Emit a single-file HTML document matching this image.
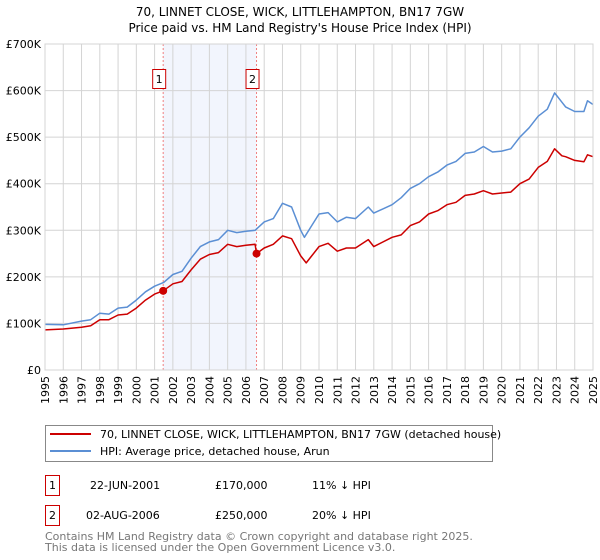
<!DOCTYPE html>
<html><head><meta charset="utf-8"><style>
body{margin:0;background:#fff;font-family:"DejaVu Sans","Liberation Sans",sans-serif}
svg{display:block}
</style></head><body>
<svg id="c" width="600" height="560" xmlns="http://www.w3.org/2000/svg">
<text x="300" y="16" text-anchor="middle" font-size="12">70, LINNET CLOSE, WICK, LITTLEHAMPTON, BN17 7GW</text>
<text x="300" y="32" text-anchor="middle" font-size="12">Price paid vs. HM Land Registry's House Price Index (HPI)</text>
<g id="plot"></g>
<g>
<rect x="45.5" y="425.5" width="447" height="36" fill="#fff" stroke="#888"/>
<line x1="50" y1="434" x2="91" y2="434" stroke="#cc0000" stroke-width="2"/>
<text x="100" y="438" font-size="11">70, LINNET CLOSE, WICK, LITTLEHAMPTON, BN17 7GW (detached house)</text>
<line x1="50" y1="451" x2="91" y2="451" stroke="#5b8fd4" stroke-width="2"/>
<text x="100" y="455" font-size="11">HPI: Average price, detached house, Arun</text>
</g>
<g font-size="11">
<rect x="45.5" y="475.5" width="14" height="20" fill="none" stroke="#cc0000"/>
<text x="52.5" y="489" text-anchor="middle">1</text>
<text x="90" y="489">22-JUN-2001</text><text x="215" y="489">£170,000</text><text x="312" y="489">11% ↓ HPI</text>
<rect x="45.5" y="505.5" width="14" height="20" fill="none" stroke="#cc0000"/>
<text x="52.5" y="519" text-anchor="middle">2</text>
<text x="86" y="519">02-AUG-2006</text><text x="215" y="519">£250,000</text><text x="312" y="519">20% ↓ HPI</text>
</g>
<text x="45" y="540" font-size="11" fill="#777">Contains HM Land Registry data © Crown copyright and database right 2025.</text>
<text x="45" y="551" font-size="11" fill="#777">This data is licensed under the Open Government Licence v3.0.</text>
</svg>
<script>
const hpiYears=[1995,1996,1997,1997.5,1998,1998.5,1999,1999.5,2000,2000.5,2001,2001.5,2002,2002.5,2003,2003.5,2004,2004.5,2005,2005.5,2006,2006.5,2007,2007.5,2008,2008.5,2009,2009.2,2009.6,2010,2010.5,2011,2011.5,2012,2012.7,2013,2014,2014.5,2015,2015.5,2016,2016.5,2017,2017.5,2018,2018.5,2019,2019.5,2020,2020.5,2021,2021.5,2022,2022.5,2022.9,2023.3,2023.5,2024,2024.5,2024.7,2025];
const hpiValues=[98,97,105,108,122,120,133,135,150,168,180,188,205,212,240,265,275,280,300,295,298,300,318,325,358,350,300,285,310,335,338,318,328,325,350,337,355,370,390,400,415,425,440,448,465,468,480,468,470,475,500,520,545,560,595,575,565,555,555,578,570];
const propYears=[1995,1996,1997,1997.5,1998,1998.5,1999,1999.5,2000,2000.5,2001,2001.47,2002,2002.5,2003,2003.5,2004,2004.5,2005,2005.5,2006,2006.5,2006.58,2007,2007.5,2008,2008.5,2009,2009.3,2009.6,2010,2010.5,2011,2011.5,2012,2012.7,2013,2014,2014.5,2015,2015.5,2016,2016.5,2017,2017.5,2018,2018.5,2019,2019.5,2020,2020.5,2021,2021.5,2022,2022.5,2022.9,2023.3,2023.5,2024,2024.5,2024.7,2025];
const propValues=[86,88,92,95,108,108,118,120,133,150,163,170,185,190,215,238,248,252,270,265,268,270,250,262,270,288,282,245,230,245,265,272,255,262,262,280,265,285,290,310,318,335,342,355,360,375,378,385,378,380,382,400,410,435,448,475,460,458,450,447,462,458];
const saleYears=[2001.47,2006.58];
const saleValues=[170,250];
const saleLabels=["1","2"];
const yTicks=[0,100,200,300,400,500,600,700];
const yTickLabels=["£0","£100K","£200K","£300K","£400K","£500K","£600K","£700K"];
const NS="http://www.w3.org/2000/svg";
const X0=45,X1=593,Y0=370,Y1=44;
const xs=y=>X0+(y-1995)/30*(X1-X0);
const ys=v=>Y0-v/700*(Y0-Y1);
const plot=document.getElementById('plot');
function mk(t,a,p){const e=document.createElementNS(NS,t);for(const k in a)e.setAttribute(k,a[k]);(p||plot).appendChild(e);return e;}
let bg=mk('rect',{x:X0,y:Y1,width:X1-X0,height:Y0-Y1,fill:'#fff'});


let sh=mk('rect',{x:xs(saleYears[0]),y:Y1,width:xs(saleYears[1])-xs(saleYears[0]),height:Y0-Y1,fill:'#f2f5fd'});


for(let yr=1995;yr<=2025;yr++){
 let l=mk('line',{x1:xs(yr),x2:xs(yr),y1:Y1,y2:Y0,stroke:'#d4d4d4','stroke-width':1});
 
 
 let t=mk('text',{x:0,y:0,'font-size':11,'text-anchor':'end',transform:`translate(${xs(yr)+4},${Y0+6}) rotate(-90)`});
 t.textContent=yr;
 
 
}
yTicks.forEach((v,i)=>{
 let l=mk('line',{x1:X0,x2:X1,y1:ys(v),y2:ys(v),stroke:'#d4d4d4','stroke-width':1});
 
 
 let t=mk('text',{x:X0-4,y:ys(v)+4,'font-size':11,'text-anchor':'end'});
 t.textContent=yTickLabels[i];
 
 
});
saleYears.forEach((s,i)=>{
 let l=mk('line',{x1:xs(s),x2:xs(s),y1:Y1,y2:Y0,stroke:'#f08080','stroke-dasharray':'2,2','stroke-width':1});
 
 
 let b=mk('rect',{x:xs(s)-10.5,y:69.5,width:13,height:19,fill:'#fff',stroke:'#cc0000'});
 
 
 let t=mk('text',{x:xs(s)-4,y:83,'font-size':11,'text-anchor':'middle'});
 t.textContent=saleLabels[i];
 
 
});
function line(Xa,Va,col,name){
 let d=Xa.map((x,i)=>(i?'L':'M')+xs(x).toFixed(1)+','+ys(Va[i]).toFixed(1)).join('');
 let p=mk('path',{d:d,fill:'none',stroke:col,'stroke-width':1.5,'stroke-linejoin':'round'});
 
 
}
line(hpiYears,hpiValues,'#5b8fd4','hpi-line');
line(propYears,propValues,'#cc0000','property-line');
saleYears.forEach((s,i)=>{
 let c=mk('circle',{cx:xs(s),cy:ys(saleValues[i]),r:4,fill:'#cc0000'});
 
 
});
let fr=mk('rect',{x:X0,y:Y1,width:X1-X0,height:Y0-Y1,fill:'none',stroke:'#d4d4d4'});


</script>
</body></html>
